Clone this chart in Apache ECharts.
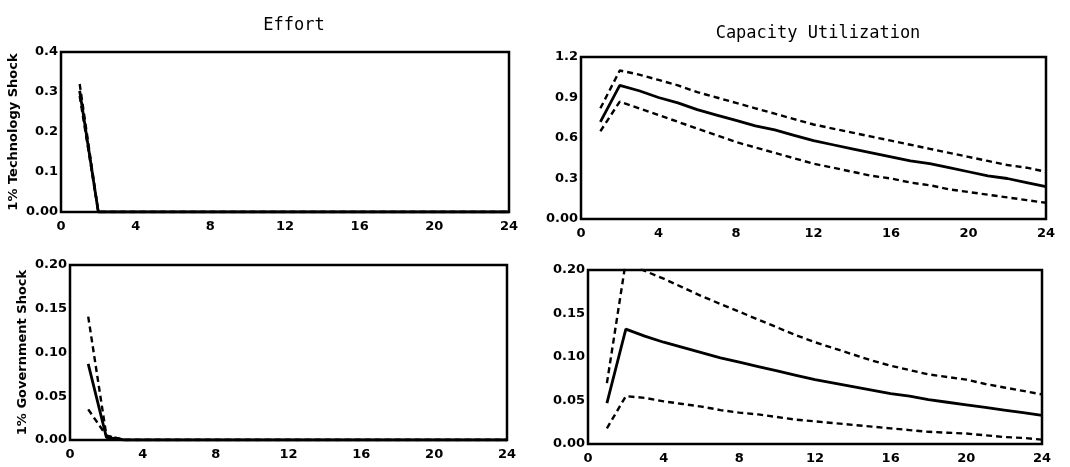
<!DOCTYPE html>
<html>
<head>
<meta charset="utf-8">
<script src="https://cdn.jsdelivr.net/npm/echarts@6/dist/echarts.min.js"></script>
<style>
html,body{margin:0;padding:0;background:#fff;}
#chart{width:1070px;height:467px;}
</style>
</head>
<body>
<div id="chart"></div>
<script>
// ---- data ----
var periods = [1,2,3,4,5,6,7,8,9,10,11,12,13,14,15,16,17,18,19,20,21,22,23,24];
var xTicks = [0,4,8,12,16,20,24];
var colTitles = ["Effort", "Capacity Utilization"];
var rowTitles = ["1% Technology Shock", "1% Government Shock"];

// Effort, technology shock
var effTechMid   = [0.303,0,0,0,0,0,0,0,0,0,0,0,0,0,0,0,0,0,0,0,0,0,0,0];
var effTechUp    = [0.320,0,0,0,0,0,0,0,0,0,0,0,0,0,0,0,0,0,0,0,0,0,0,0];
var effTechLo    = [0.290,0,0,0,0,0,0,0,0,0,0,0,0,0,0,0,0,0,0,0,0,0,0,0];
// Capacity utilization, technology shock
var cuTechMid = [0.72,0.99,0.95,0.90,0.86,0.81,0.77,0.73,0.69,0.66,0.62,0.58,0.55,0.52,0.49,0.46,0.43,0.41,0.38,0.35,0.32,0.30,0.27,0.24];
var cuTechUp  = [0.82,1.10,1.07,1.03,0.99,0.94,0.90,0.86,0.82,0.78,0.74,0.70,0.67,0.64,0.61,0.58,0.55,0.52,0.49,0.46,0.43,0.40,0.38,0.35];
var cuTechLo  = [0.65,0.87,0.82,0.77,0.72,0.67,0.62,0.57,0.53,0.49,0.45,0.41,0.38,0.35,0.32,0.30,0.27,0.25,0.22,0.20,0.18,0.16,0.14,0.12];
// Effort, government shock
var effGovMid = [0.087,0.003,0,0,0,0,0,0,0,0,0,0,0,0,0,0,0,0,0,0,0,0,0,0];
var effGovUp  = [0.141,0.005,0,0,0,0,0,0,0,0,0,0,0,0,0,0,0,0,0,0,0,0,0,0];
var effGovLo  = [0.035,0.005,0,0,0,0,0,0,0,0,0,0,0,0,0,0,0,0,0,0,0,0,0,0];
// Capacity utilization, government shock
var cuGovMid = [0.047,0.132,0.124,0.117,0.111,0.105,0.099,0.094,0.089,0.084,0.079,0.074,0.070,0.066,0.062,0.058,0.055,0.051,0.048,0.045,0.042,0.039,0.036,0.033];
var cuGovUp  = [0.070,0.210,0.199,0.190,0.180,0.170,0.161,0.152,0.143,0.134,0.125,0.117,0.110,0.103,0.096,0.090,0.085,0.080,0.077,0.074,0.069,0.065,0.061,0.057];
var cuGovLo  = [0.018,0.055,0.053,0.049,0.046,0.043,0.039,0.036,0.034,0.031,0.028,0.026,0.024,0.022,0.020,0.018,0.016,0.014,0.013,0.012,0.010,0.008,0.007,0.005];

var yTicksTop = {eff:[0,0.4,0.1], cu:[0,1.2,0.3]};
var yTicksBot = {eff:[0,0.2,0.05], cu:[0,0.2,0.05]};

function pairs(arr){ return periods.map(function(p,i){ return [p, arr[i]]; }); }

var chart = echarts.init(document.getElementById('chart'), null, {renderer:'canvas'});
var FONT = 'DejaVu Sans';

var grids = [
  {left:61, top:52, width:448, height:160},
  {left:581, top:57, width:465, height:162},
  {left:70, top:265, width:437, height:175},
  {left:588, top:270, width:454, height:174}
];
grids.forEach(function(g){ g.show = true; g.borderColor = '#000'; g.borderWidth = 2.5; g.backgroundColor = '#fff'; });

var xAxes = grids.map(function(g,i){
  return {
    gridIndex:i, type:'value', min:0, max:24, interval:4,
    axisLine:{show:false}, axisTick:{show:false}, splitLine:{show:false},
    axisLabel:{color:'#000', fontFamily:FONT, fontWeight:'bold', fontSize:13, margin:8,
      formatter:function(v){ return xTicks.indexOf(v) >= 0 ? String(v) : ''; }}
  };
});

var yDefs = [yTicksTop.eff, yTicksTop.cu, yTicksBot.eff, yTicksBot.cu];
var yAxes = yDefs.map(function(d,i){
  var a = {
    gridIndex:i, type:'value', min:d[0], max:d[1], interval:d[2],
    axisLine:{show:false}, axisTick:{show:false}, splitLine:{show:false},
    axisLabel:{color:'#000', fontFamily:FONT, fontWeight:'bold', fontSize:13, margin:3,
      formatter:function(v){
        if (v === 0) return '0.00';
        return d[2] < 0.1 ? v.toFixed(2) : v.toFixed(1);
      }}
  };
  if (i === 0 || i === 2) {
    a.name = rowTitles[i/2];
    a.nameLocation = 'middle';
    a.nameRotate = 90;
    a.nameGap = 41;
    a.nameTextStyle = {color:'#000', fontFamily:FONT, fontWeight:'bold', fontSize:13};
  }
  return a;
});

var sets = [
  [effTechMid, effTechUp, effTechLo],
  [cuTechMid, cuTechUp, cuTechLo],
  [effGovMid, effGovUp, effGovLo],
  [cuGovMid, cuGovUp, cuGovLo]
];
var series = [];
sets.forEach(function(s,i){
  series.push({type:'line', xAxisIndex:i, yAxisIndex:i, data:pairs(s[1]), symbol:'none', clip:true,
    lineStyle:{color:'#000', width:2.4, type:[6,4]}});
  series.push({type:'line', xAxisIndex:i, yAxisIndex:i, data:pairs(s[2]), symbol:'none', clip:true,
    lineStyle:{color:'#000', width:2.4, type:[6,4]}});
  series.push({type:'line', xAxisIndex:i, yAxisIndex:i, data:pairs(s[0]), symbol:'none', clip:true,
    lineStyle:{color:'#000', width:2.8, type:'solid'}});
});

chart.setOption({
  animation:false,
  backgroundColor:'#fff',
  title:[
    {text:colTitles[0], left:289, top:12, textAlign:'center',
      textStyle:{color:'#000', fontFamily:'DejaVu Sans Mono', fontWeight:'normal', fontSize:17}},
    {text:colTitles[1], left:813, top:20, textAlign:'center',
      textStyle:{color:'#000', fontFamily:'DejaVu Sans Mono', fontWeight:'normal', fontSize:17}}
  ],
  grid:grids,
  xAxis:xAxes,
  yAxis:yAxes,
  series:series
});
</script>
</body>
</html>
